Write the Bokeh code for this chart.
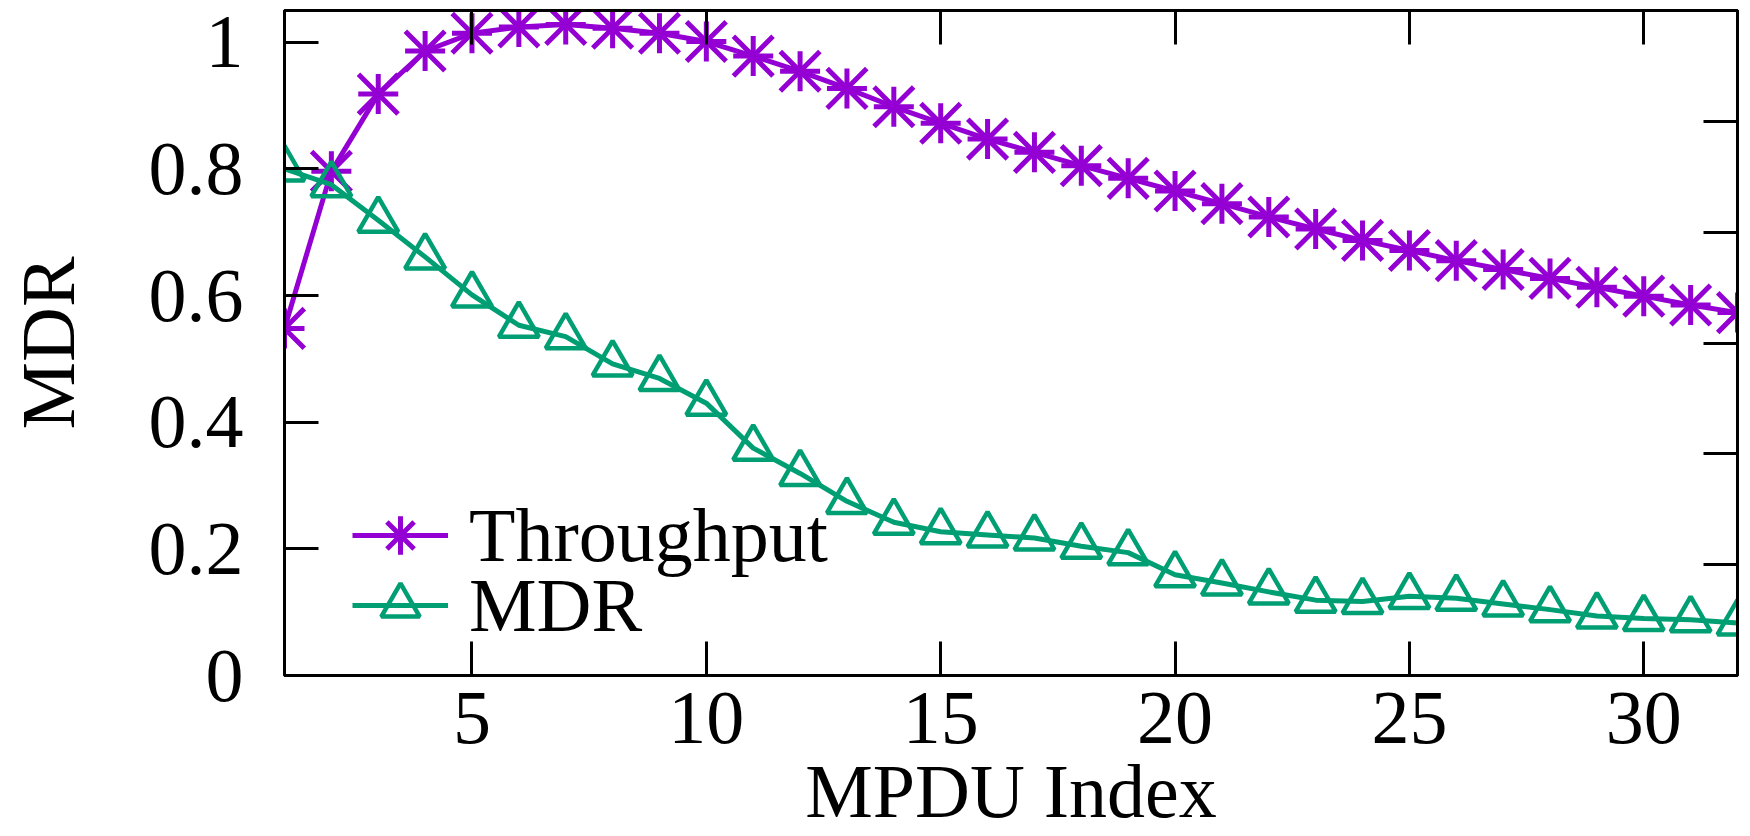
from bokeh.plotting import figure
from bokeh.models import (Range1d, LinearAxis, FixedTicker, CustomJSTickFormatter,
                          Legend, LegendItem)
from bokeh.embed import file_html
from bokeh.resources import INLINE

# ---- data ----
mpdu_index = list(range(1, 33))
throughput = [0.548, 0.796, 0.918, 0.986, 1.014, 1.024, 1.028, 1.022, 1.014, 1.001,
              0.978, 0.954, 0.927, 0.898, 0.872, 0.847, 0.826, 0.805, 0.785, 0.765,
              0.745, 0.724, 0.705, 0.687, 0.671, 0.655, 0.641, 0.627, 0.613, 0.599,
              0.585, 0.573]
mdr = [0.800, 0.775, 0.719, 0.661, 0.601, 0.553, 0.535, 0.492, 0.469, 0.430,
       0.359, 0.319, 0.275, 0.242, 0.227, 0.222, 0.217, 0.204, 0.194, 0.159,
       0.146, 0.132, 0.119, 0.117, 0.125, 0.122, 0.113, 0.104, 0.094, 0.090,
       0.088, 0.083]
x_ticks = [5, 10, 15, 20, 25, 30]
y_ticks = [0, 0.2, 0.4, 0.6, 0.8, 1]
y2_ticks = [1, 2, 3, 4, 5]

PURPLE = "#9400D3"
GREEN = "#009E73"
FONT = "Liberation Serif"
FS = "76px"

p = figure(width=1750, height=836, output_backend="svg", toolbar_location=None,
           x_range=Range1d(1, 32), y_range=Range1d(0, 1.05),
           min_border_left=284, min_border_right=13, min_border_top=10,
           min_border_bottom=161,
           x_axis_label="MPDU Index", y_axis_label="MDR")
p.extra_y_ranges = {"y2": Range1d(0, 6)}
p.grid.visible = False
p.outline_line_color = "black"
p.outline_line_width = 3
p.background_fill_color = "white"
p.border_fill_color = "white"


def style_axis(ax, labels=True):
    ax.axis_line_color = "black"
    ax.axis_line_width = 3
    ax.major_tick_line_color = "black"
    ax.major_tick_line_width = 3
    ax.major_tick_in = 34
    ax.major_tick_out = 0
    ax.minor_tick_line_color = None
    ax.major_label_text_font = FONT
    ax.major_label_text_color = "black"
    ax.axis_label_text_font = FONT
    ax.axis_label_text_font_size = FS
    ax.axis_label_text_font_style = "normal"
    ax.axis_label_text_color = "black"
    if labels:
        ax.major_label_text_font_size = FS
    else:
        ax.major_label_text_font_size = "0px"
        ax.major_label_standoff = 0
        ax.formatter = CustomJSTickFormatter(code="return ''")


xa = p.xaxis[0]
xa.ticker = FixedTicker(ticks=x_ticks)
style_axis(xa)
xa.major_label_standoff = 17
xa.axis_label_standoff = 3

ya = p.yaxis[0]
ya.ticker = FixedTicker(ticks=y_ticks)
ya.formatter = CustomJSTickFormatter(code="return String(Math.round(tick*10)/10)")
style_axis(ya)
ya.major_label_standoff = 41
ya.axis_label_standoff = 56

top_ax = LinearAxis(ticker=FixedTicker(ticks=x_ticks))
style_axis(top_ax, labels=False)
p.add_layout(top_ax, "above")

right_ax = LinearAxis(y_range_name="y2", ticker=FixedTicker(ticks=y2_ticks))
style_axis(right_ax, labels=False)
p.add_layout(right_ax, "right")

# ---- series ----
t_line = p.line(mpdu_index, throughput, line_color=PURPLE, line_width=5, line_join="round")
t_cross = p.scatter(mpdu_index, throughput, marker="cross", size=40,
                    line_color=PURPLE, line_width=5)
t_x = p.scatter(mpdu_index, throughput, marker="x", size=56,
                line_color=PURPLE, line_width=5)

m_line = p.line(mpdu_index, mdr, line_color=GREEN, line_width=5, line_join="round")
m_tri = p.scatter(mpdu_index, mdr, marker="triangle", size=40, line_color=GREEN,
                  line_width=4.5, fill_color=None)

legends = [
    Legend(items=[LegendItem(label="Throughput", renderers=[t_line, t_cross, t_x])],
           location=(68, 92)),
    Legend(items=[LegendItem(label="MDR", renderers=[m_line, m_tri])],
           location=(68, 22)),
]
for lg in legends:
    lg.padding = 0
    lg.margin = 0
    lg.spacing = 0
    lg.glyph_width = 96
    lg.glyph_height = 96
    lg.label_standoff = 21
    lg.label_text_font = FONT
    lg.label_text_font_size = FS
    lg.label_text_color = "black"
    lg.border_line_alpha = 0
    lg.background_fill_alpha = 0
    p.add_layout(lg)

open("out.html", "w").write(file_html(p, INLINE))
